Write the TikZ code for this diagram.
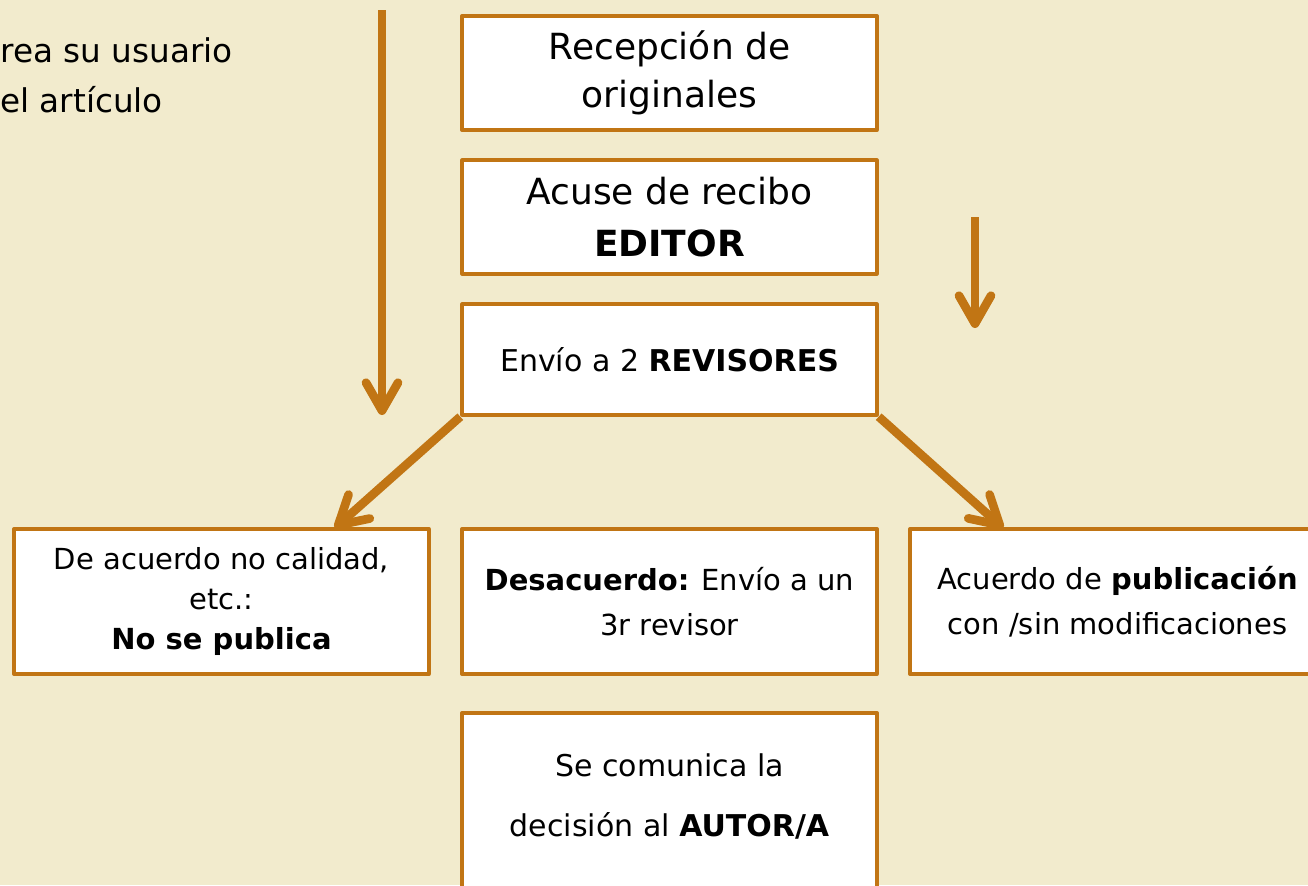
\documentclass[tikz,border=0pt]{standalone}
\usepackage{fontspec}
\setmainfont{DejaVu Sans}
\usetikzlibrary{arrows.meta,positioning}
\definecolor{pergamino}{RGB}{242,235,205}
\definecolor{naranja}{RGB}{193,117,20}
\newcommand{\tam}[2]{\fontsize{#1}{#2}\selectfont}

\begin{document}
\begin{tikzpicture}[line cap=round,line join=round,x=0.75pt,y=-0.75pt,
  caja/.style={draw=naranja,fill=white,line width=2.8pt,rectangle,minimum width=311pt,align=center,inner sep=0pt},
  flecha/.style={draw=naranja,line width=6.5pt,line cap=butt,-{Straight Barb[length=21pt,width=24pt,round]}}]

\useasboundingbox (0,0) rectangle (1308,885);
\fill[pergamino] (0,0) rectangle (1308,885);
\clip (0,0) rectangle (1308,885);

% texto cortado arriba a la izquierda
\node[anchor=west,align=left,inner sep=0pt,font=\tam{24.5pt}{37.5pt}] (crea) at (0,75) {rea su usuario\\el artículo};

% columna central
\node[caja,minimum height=85.5pt,font=\tam{27pt}{36pt}] (recepcion) at (669.5,73) {Recepción de\\originales};
\node[caja,minimum height=85pt,font=\tam{27pt}{39pt}] (acuse) at (669.5,217) {Acuse de recibo\\\textbf{EDITOR}};
\node[caja,minimum height=83pt,font=\tam{22.5pt}{30pt}] (envio) at (669.5,359.5) {Envío a 2 \textbf{REVISORES}};

% decisiones
\node[caja,minimum height=108.75pt,font=\tam{21.75pt}{30pt}] (nopub) at (221.5,601.5) {De acuerdo no calidad,\\etc.:\\\textbf{No se publica}};
\node[caja,minimum height=108.75pt,font=\tam{21.75pt}{34pt}] (tercero) at (669.5,601.5) {\textbf{Desacuerdo:} Envío a un\\3r revisor};
\node[caja,minimum height=108.75pt,font=\tam{21.75pt}{34pt}] (pub) at (1117.5,601.5) {Acuerdo de \textbf{publicación}\\con /sin modificaciones};

\node[caja,minimum height=168pt,font=\tam{22.5pt}{45pt}] (autor) at (669.5,825) {Se comunica la\\decisión al \textbf{AUTOR/A}\\~};

%
\coordinate (ini) at (382,10);
\coordinate (fin) at (382,415);
\coordinate (ini2) at (975,217);
\coordinate (fin2) at (975,328);
\coordinate (llega1) at (335,528);
\coordinate (llega2) at (1003,528);

\draw[flecha] (ini) -- (fin);
\draw[flecha] (ini2) -- (fin2);
\draw[flecha] (envio.south west) -- (llega1);
\draw[flecha] (envio.south east) -- (llega2);

\end{tikzpicture}
\end{document}
